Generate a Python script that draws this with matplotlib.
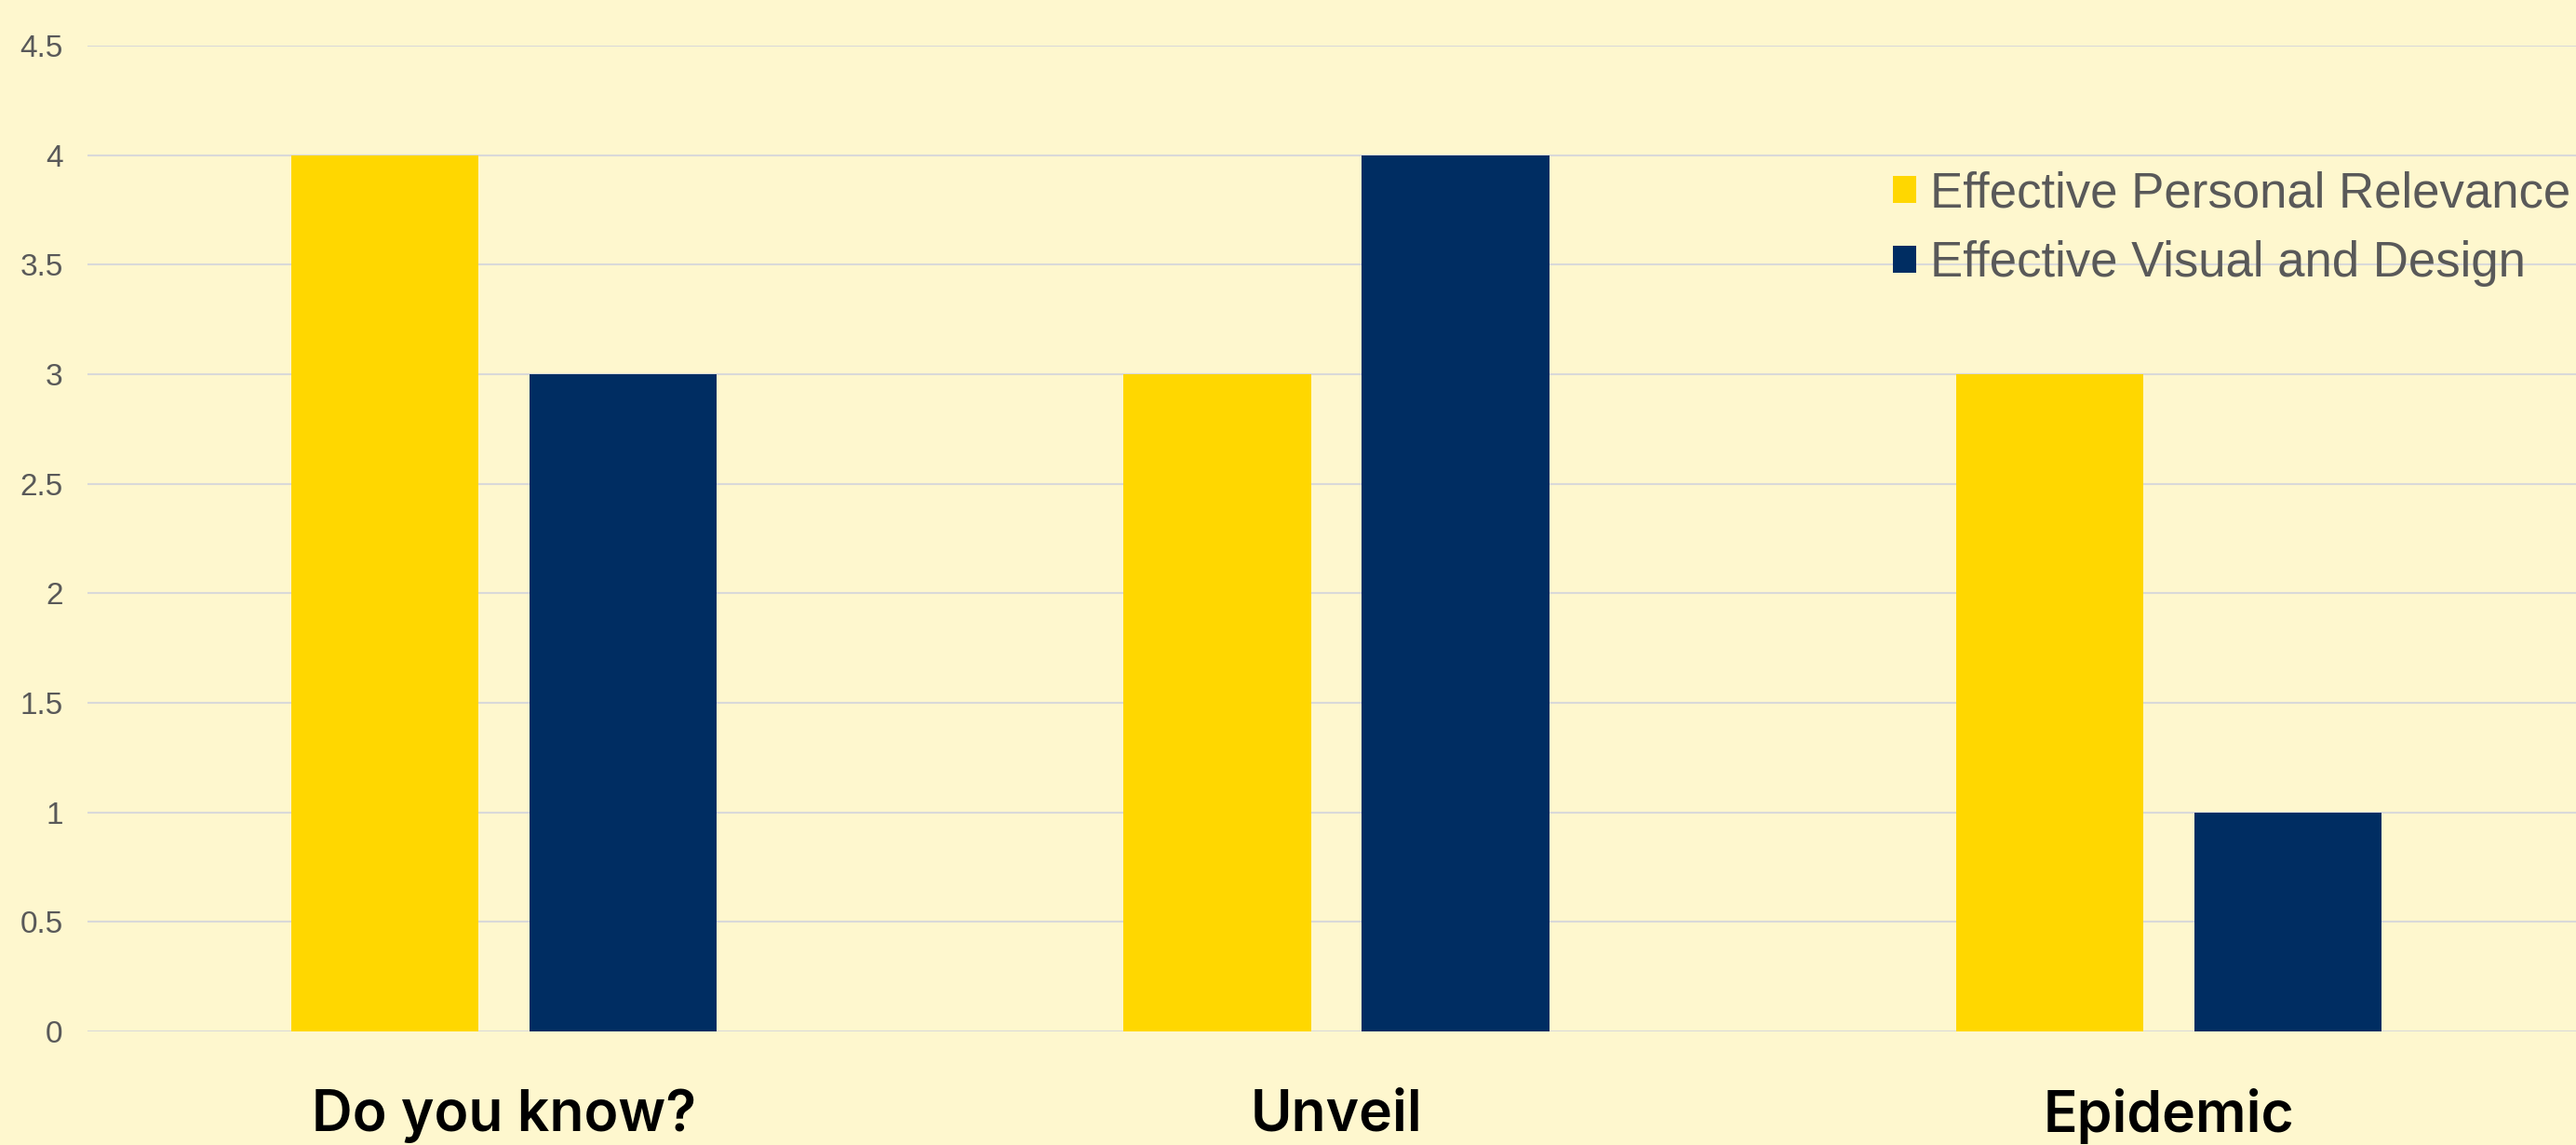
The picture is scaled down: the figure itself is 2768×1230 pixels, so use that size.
import numpy as np
import matplotlib
matplotlib.use("Agg")
import matplotlib.pyplot as plt

# data
categories = ["Do you know?", "Unveil", "Epidemic"]
personal_relevance = [4, 3, 3]
visual_design = [3, 4, 1]
series_names = ["Effective Personal Relevance", "Effective Visual and Design"]
y_ticks = [0, 0.5, 1, 1.5, 2, 2.5, 3, 3.5, 4, 4.5]
y_tick_labels = ["0", "0.5", "1", "1.5", "2", "2.5", "3", "3.5", "4", "4.5"]

bg = "#FEF7CE"
yellow = "#FFD700"
navy = "#002D62"
grey = "#595959"

fig = plt.figure(figsize=(27.68, 12.30), dpi=100, facecolor=bg)
ax = fig.add_axes([94 / 2768, 1 - 1108 / 1230, 2684 / 2768, (1108 - 49) / 1230])
ax.set_facecolor(bg)

x = np.arange(len(categories))
w = 0.225
off = 0.143
b1 = ax.bar(x - off, personal_relevance, w, color=yellow, zorder=3, label=series_names[0])
b2 = ax.bar(x + off, visual_design, w, color=navy, zorder=3, label=series_names[1])

ax.set_xlim(-0.5, len(categories) - 0.5)
ax.set_ylim(0, 4.5)
ax.set_yticks(y_ticks)
ax.set_yticklabels(y_tick_labels, fontsize=24, color=grey, family="Liberation Sans")
ax.yaxis.grid(True, color="#D9D9D9", linewidth=1.5, zorder=0)
ax.set_axisbelow(True)
ax.tick_params(axis="y", length=0, pad=19)

ax.set_xticks(x)
ax.set_xticklabels(categories, fontsize=43.6, fontweight="semibold", color="black", family="Inter")
ax.tick_params(axis="x", length=0, pad=44)

for s in ax.spines.values():
    s.set_visible(False)

leg = ax.legend(handles=[b1, b2], loc="center left", bbox_to_anchor=(0.735, 0.800),
                bbox_transform=fig.transFigure, frameon=False, borderpad=0, borderaxespad=0,
                handlelength=0.47, handleheight=0.47, handletextpad=0.27, labelspacing=0.47,
                prop={"family": "Liberation Sans", "size": 38})
for t in leg.get_texts():
    t.set_color(grey)

fig.savefig("out.png", dpi=100, facecolor=bg)
